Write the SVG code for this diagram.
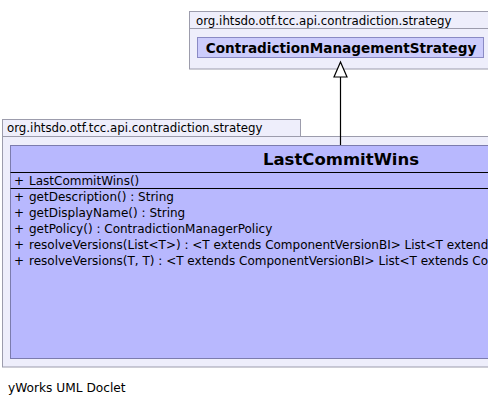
<svg xmlns="http://www.w3.org/2000/svg" width="488" height="405" viewBox="0 0 488 405">
<style>
text{font-family:"DejaVu Sans",Verdana,sans-serif;fill:#000}
.pkg{fill:#eeeefb;stroke:#9c9cac;stroke-width:1}
.lbl{font-size:11.8px}
.mem{font-size:12px}
.title{font-weight:bold}
.sep{stroke:#000;stroke-width:1.2}
</style>
<rect width="488" height="405" fill="#fff"/>
<g id="pkg-top">
<rect class="pkg" x="189.5" y="11.5" width="300" height="57.5"/>
<line x1="189.5" y1="28.5" x2="489" y2="28.5" stroke="#9c9cac"/>
<text class="lbl" x="196" y="25">org.ihtsdo.otf.tcc.api.contradiction.strategy</text>
</g>
<g id="ContradictionManagementStrategy">
<rect x="197.5" y="37.5" width="286" height="20" fill="#ccccfc" stroke="#8a8ac4"/>
<text class="title" x="341" y="53" font-size="13.6" text-anchor="middle">ContradictionManagementStrategy</text>
</g>
<g id="pkg-bottom">
<rect class="pkg" x="2.5" y="119.5" width="298" height="17"/>
<rect class="pkg" x="2.5" y="136.5" width="500" height="230.5"/>
<text class="lbl" x="7" y="132">org.ihtsdo.otf.tcc.api.contradiction.strategy</text>
</g>
<g id="LastCommitWins">
<rect x="10.5" y="145.5" width="662" height="213" fill="#b8b8fe" stroke="#7c7cae"/>
<text class="title" x="341" y="164.5" font-size="16.5" text-anchor="middle">LastCommitWins</text>
<line class="sep" x1="10.5" y1="172.5" x2="672" y2="172.5"/>
<line class="sep" x1="10.5" y1="188.5" x2="672" y2="188.5"/>
<g class="mem">
<text class="mem" x="14" y="185">+</text><text class="mem" x="29" y="185">LastCommitWins()</text>
<text class="mem" x="14" y="201">+</text><text class="mem" x="29" y="201">getDescription() : String</text>
<text class="mem" x="14" y="217">+</text><text class="mem" x="29" y="217">getDisplayName() : String</text>
<text class="mem" x="14" y="233">+</text><text class="mem" x="29" y="233">getPolicy() : ContradictionManagerPolicy</text>
<text class="mem" x="14" y="249">+</text><text class="mem" x="29" y="249">resolveVersions(List&lt;T&gt;) : &lt;T extends ComponentVersionBI&gt; List&lt;T extends ComponentVersionBI&gt;</text>
<text class="mem" x="14" y="265">+</text><text class="mem" x="29" y="265">resolveVersions(T, T) : &lt;T extends ComponentVersionBI&gt; List&lt;T extends ComponentVersionBI&gt;</text>
</g>
</g>
<g id="connectors">
<line x1="340.5" y1="77" x2="340.5" y2="145" stroke="#000" stroke-width="1.2"/>
<polygon points="340.5,62 334,77 347,77" fill="#fff" stroke="#000" stroke-width="1.2"/>
</g>
<text x="8" y="392" font-size="12.2">yWorks UML Doclet</text>
</svg>
